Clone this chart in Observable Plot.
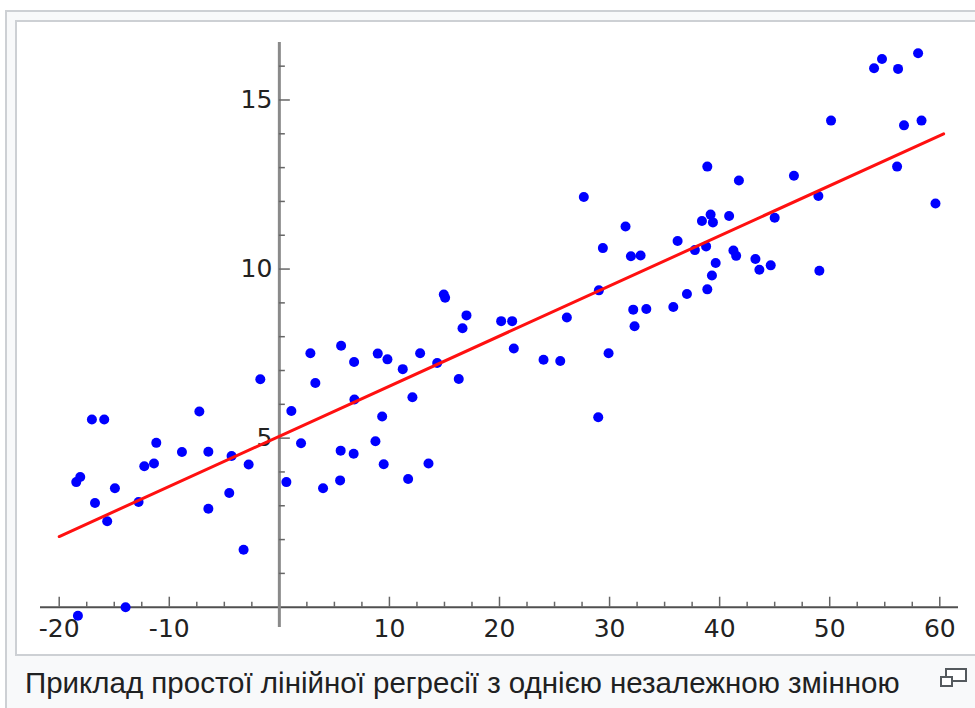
<!DOCTYPE html>
<html>
<head>
<meta charset="utf-8">
<script src="https://cdn.jsdelivr.net/npm/d3@7"></script>
<script src="https://cdn.jsdelivr.net/npm/@observablehq/plot@0.6"></script>
<style>
  html, body { margin: 0; padding: 0; background: #ffffff; }
  body { width: 975px; height: 708px; overflow: hidden; position: relative; }
  #frame { position: absolute; left: 5px; top: 10px; width: 1000px; height: 720px;
           background: #f8f9fa; border: 2px solid #cdd0d4; box-sizing: border-box; }
  #image { position: absolute; left: 15px; top: 20px; width: 1000px; height: 636px;
           background: #ffffff; border: 2px solid #cdd0d4; box-sizing: border-box; }
  #chart { position: absolute; left: 17px; top: 22px; }
  #chart svg { display: block; background: transparent; overflow: visible; max-width: none; }
  #caption { position: absolute; left: 25px; top: 668px; font-family: "Liberation Sans", Arial, sans-serif;
             font-size: 29.5px; line-height: 1; color: #202122; white-space: nowrap; }
  #icon { position: absolute; left: 938px; top: 666px; }
</style>
</head>
<body>
<div id="frame"></div>
<div id="image"></div>
<div id="chart"></div>
<div id="caption">Приклад простої лінійної регресії з однією незалежною змінною</div>
<svg id="icon" width="32" height="24" viewBox="0 0 32 24">
  <rect x="8" y="3" width="20" height="12" fill="#ffffff" stroke="#54595d" stroke-width="2"/>
  <rect x="3" y="11" width="11" height="9" fill="#ffffff" stroke="#54595d" stroke-width="2"/>
</svg>
<script>
// Scatter data (x, y)
const pointsX = [
  -1.73, -7.27, -17.03, -15.91, -11.18, -8.85, -6.45, -4.34, -12.27, -11.39,
  -2.79, -18.45, -18.09, -14.94, -16.75, -12.79, -4.55, -6.45, -15.64, -3.25,
  -13.97, -18.3,
  1.09, 0.64, 14.94, 15.06, 17.0, 16.64, 20.15, 21.15, 2.82, 5.61,
  8.94, 9.82, 6.79, 12.79, 11.21, 14.34, 3.27, 16.3, 6.82, 12.09,
  9.34, 1.97, 8.73, 5.57, 6.75, 9.48, 13.55, 3.97, 5.52, 11.7,
  21.3, 24.0, 25.52, 29.91, 28.97, 26.12, 29.03, 32.15, 33.34, 32.27,
  35.79, 37.03, 38.88, 39.3, 39.64, 37.75, 38.77, 41.25, 41.5, 36.18,
  38.39, 39.18, 39.39, 40.86, 31.94, 32.82, 29.39, 31.45, 27.66, 38.88,
  41.75, 43.25, 43.61, 44.64, 45.0, 46.75, 48.97, 49.06, 50.12, 54.03,
  54.75, 56.21, 58.03, 56.12, 56.75, 58.34, 59.61
];
const pointsY = [
  6.74, 5.79, 5.55, 5.55, 4.86, 4.59, 4.60, 4.47, 4.17, 4.25,
  4.22, 3.70, 3.85, 3.52, 3.08, 3.11, 3.38, 2.91, 2.54, 1.70,
  0.0, -0.25,
  5.80, 3.70, 9.25, 9.15, 8.63, 8.25, 8.46, 8.46, 7.51, 7.73,
  7.50, 7.33, 7.25, 7.51, 7.04, 7.22, 6.63, 6.75, 6.14, 6.21,
  5.64, 4.85, 4.91, 4.63, 4.54, 4.23, 4.25, 3.52, 3.75, 3.79,
  7.65, 7.32, 7.28, 7.51, 5.62, 8.57, 9.37, 8.80, 8.82, 8.31,
  8.88, 9.26, 9.40, 9.81, 10.18, 10.56, 10.67, 10.55, 10.39, 10.83,
  11.42, 11.61, 11.38, 11.57, 10.38, 10.40, 10.62, 11.26, 12.13, 13.03,
  12.62, 10.30, 9.98, 10.11, 11.52, 12.76, 12.16, 9.95, 14.39, 15.94,
  16.21, 15.92, 16.38, 13.03, 14.25, 14.39, 11.94
];

// Regression line end points
const fitX = [-20, 60.35];
const fitY = [2.09, 14.0];

// Axis extents
const xAxisExtent = [-21.7, 61.7];
const yAxisExtent = [-0.6, 16.7];

// Ticks and labels
const xMajorTicks = [-20, -10, 10, 20, 30, 40, 50, 60];
const xMinorTicks = [-17.5, -15, -12.5, -7.5, -5, -2.5, 2.5, 5, 7.5, 12.5, 15, 17.5,
                     22.5, 25, 27.5, 32.5, 35, 37.5, 42.5, 45, 47.5, 52.5, 55, 57.5];
const xTickLabels = ["-20", "-10", "10", "20", "30", "40", "50", "60"];
const yMajorTicks = [5, 10, 15];
const yMinorTicks = [1, 2, 3, 4, 6, 7, 8, 9, 11, 12, 13, 14, 16];
const yTickLabels = ["5", "10", "15"];

const points = pointsX.map((x, i) => ({x, y: pointsY[i]}));
const fit = fitX.map((x, i) => ({x, y: fitY[i]}));
const xLabels = xMajorTicks.map((v, i) => ({v, t: xTickLabels[i]}));
const yLabels = yMajorTicks.map((v, i) => ({v, t: yTickLabels[i]}));

const font = "DejaVu Sans, sans-serif";

const chart = Plot.plot({
  width: 958,
  height: 632,
  marginLeft: 23,
  marginRight: 17,
  marginTop: 20,
  marginBottom: 27,
  x: {domain: xAxisExtent, axis: null},
  y: {domain: yAxisExtent, axis: null},
  style: {background: "transparent", overflow: "visible", maxWidth: "none"},
  marks: [
    // axis lines
    Plot.ruleY([0], {x1: xAxisExtent[0], x2: xAxisExtent[1], stroke: "#505050", strokeWidth: 2}),
    Plot.ruleX([0], {y1: yAxisExtent[0], y2: yAxisExtent[1], stroke: "#8a8a8a", strokeWidth: 3}),
    // x ticks (pointing up)
    Plot.ruleX(xMajorTicks, {x: d => d, y1: 0, y2: 0, insetTop: -10, stroke: "#666", strokeWidth: 1.5}),
    Plot.ruleX(xMinorTicks, {x: d => d, y1: 0, y2: 0, insetTop: -5, stroke: "#666", strokeWidth: 1.5}),
    // y ticks (pointing right)
    Plot.ruleY(yMajorTicks, {y: d => d, x1: 0, x2: 0, insetRight: -11, stroke: "#666", strokeWidth: 1.5}),
    Plot.ruleY(yMinorTicks, {y: d => d, x1: 0, x2: 0, insetRight: -6, stroke: "#666", strokeWidth: 1.5}),
    // tick labels
    Plot.text(xLabels, {x: "v", y: 0, text: "t", dy: 22, lineAnchor: "middle", textAnchor: "middle",
                        fontFamily: font, fontSize: 25, fill: "#222"}),
    Plot.text(yLabels, {x: 0, y: "v", text: "t", dx: -7, lineAnchor: "middle", textAnchor: "end",
                        fontFamily: font, fontSize: 25, fill: "#222"}),
    // scatter points
    Plot.dot(points, {x: "x", y: "y", r: 5, fill: "#0000ff", stroke: "none"}),
    // regression line
    Plot.line(fit, {x: "x", y: "y", stroke: "#ff1010", strokeWidth: 3})
  ]
});
document.getElementById("chart").appendChild(chart);
</script>
</body>
</html>
